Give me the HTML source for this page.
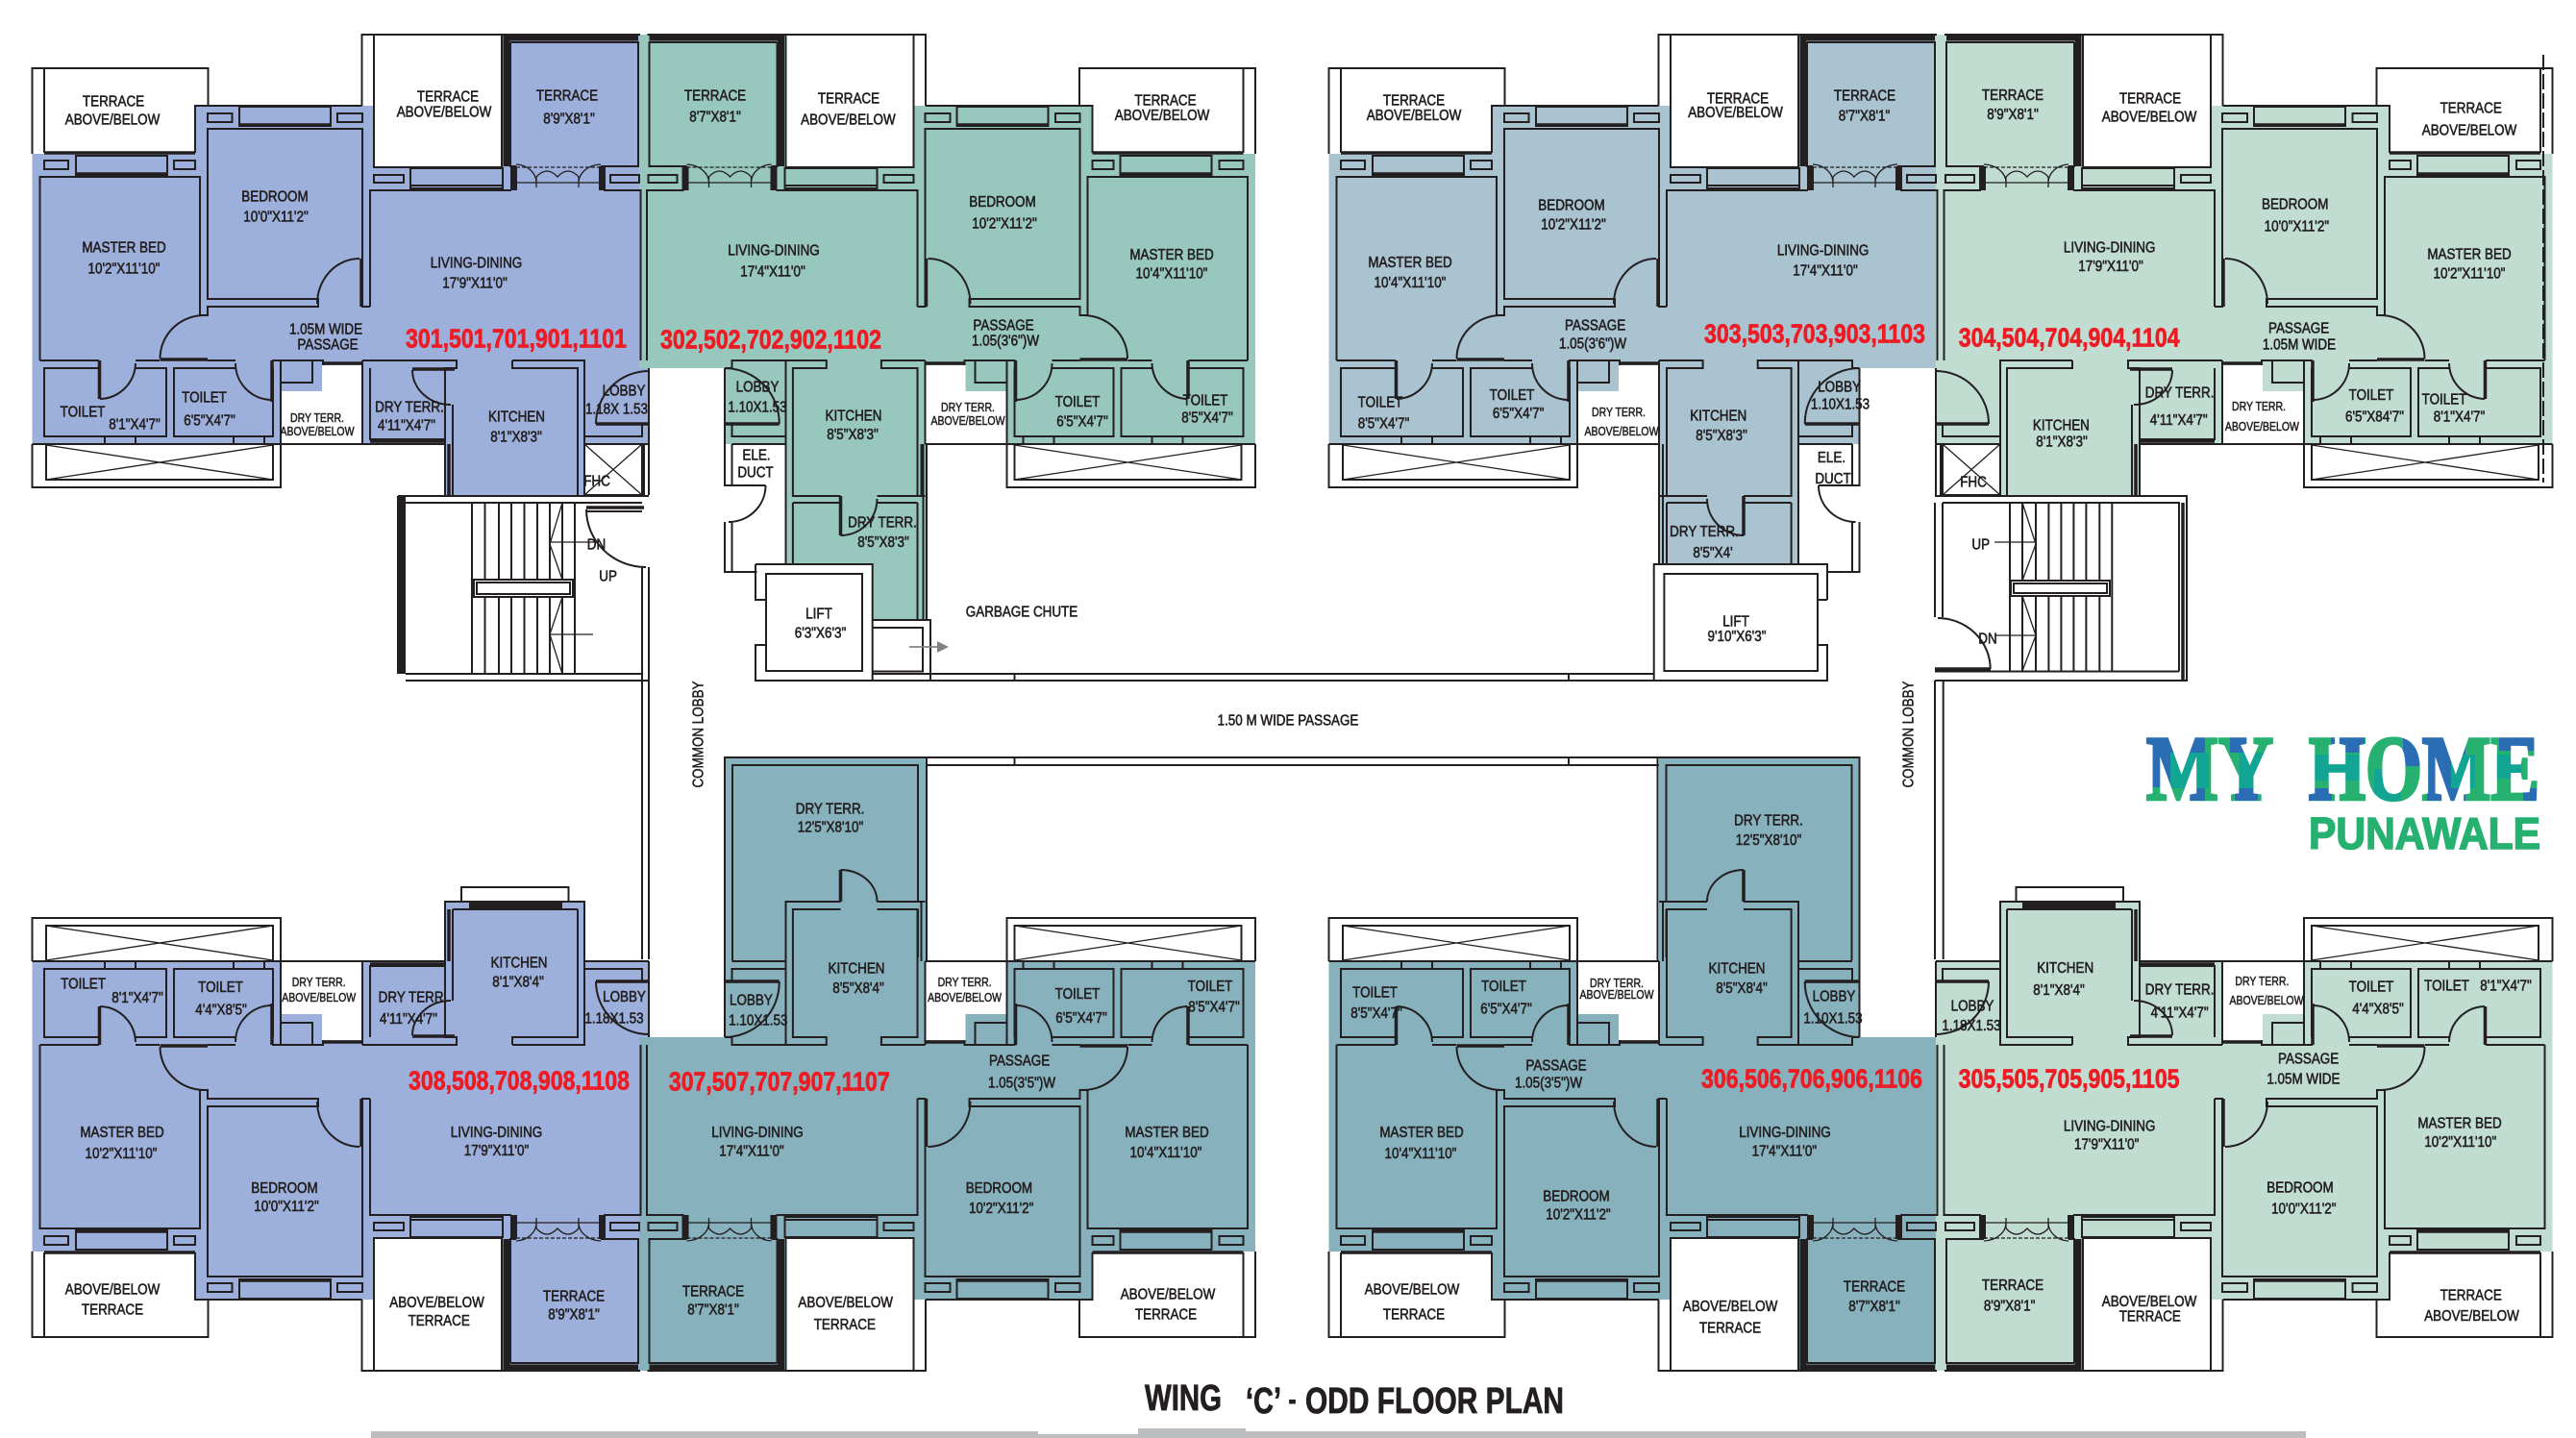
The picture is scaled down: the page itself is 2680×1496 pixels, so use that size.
<!DOCTYPE html>
<html><head><meta charset="utf-8"><style>
html,body{margin:0;padding:0;background:#fff}
svg{display:block}
.w *{fill:none;stroke:#231f20;stroke-width:2}
.w .t{stroke-width:3.5}
.w .k{stroke-width:7}
.w .n{stroke-width:1.3}
text{font-family:"Liberation Sans",sans-serif;text-anchor:middle;dominant-baseline:central;transform-box:fill-box;transform-origin:center;fill:#231f20}
.l,.s{font-size:16px;stroke:#231f20;stroke-width:.6;transform:scaleX(.84)}
.s{font-size:12.5px;stroke-width:.5}
.r{font-size:28px;font-weight:bold;fill:#ed1c24;stroke:#ed1c24;stroke-width:.7;transform:scaleX(.825)}
</style></head><body>
<svg xmlns="http://www.w3.org/2000/svg" width="2680" height="1496" viewBox="0 0 2680 1496">
<defs>
<g id="shell" class="w">
<path d="M33.5,160V71H216.5V110M46,159V71M203,159V110H376.5M376.5,110V36H666M389,36V174H522M522,36V174"/>
<path class="t" d="M46,159H203"/>
<path class="k" d="M527,37V173M524,39H664"/>
<path d="M531,44H664V173H625M531,44V173H537M635,182H665V190H635ZM385,319V198H532M628,198H666.5V375"/>
<path d="M427,175H523V196H427ZM389,182H420V190H389ZM427,193H523"/>
<path class="k" d="M534.5,173V198M626.5,173V198"/>
<path class="n" stroke-dasharray="4 2" d="M537,174H625"/>
<path class="n" d="M537,190H625M537,171A22,19 0 0 1 558,190M558,184Q569,172 580,184Q591,172 602,184M602,190A24,19 0 0 1 625,171M558,184V195M602,184V195"/>
<path d="M41.5,375V184H208V328H216V319H331V311H216V134H377V319H385"/>
<path d="M249,111H344V131H249ZM216,118H241.5V127H216ZM351,118H377V127H351ZM79,162H174V182H79ZM46,167H71V176H46ZM181,167H203V176H181Z"/>
<path class="t" d="M249,130H344M79,181H174"/>
<path d="M41.5,375H103M141,375H166M216,375H245M283,375H336V380M103,383H46V454H173V383H141M245,383H181V454H284V383"/>
<path d="M109,454H141V462H109ZM243,454H275V462H243ZM292,375V398H325V375M292,398V462"/>
<path class="t" d="M103.5,375V415M283,375V418M166.5,374H216M376,269V319"/>
<path d="M104,415A38,38 0 0 0 141,378M283,416A38,38 0 0 1 245,378M166.5,373A46,45 0 0 1 212,328M330,316A44,47 0 0 1 374,269"/>
<path class="t" d="M336,378H377"/>
<path d="M33.5,462V507H292V462M33.5,462H377M48,463V499H284V463"/>
<path class="n" d="M48,463L284,499M48,499L284,463"/>
</g>
<g id="kx" class="w">
<path d="M377,375H475V383H463V516M471,421V516M533,375H608V516M533,375V383H601V516M385,383V457H463M377,375V462H463"/>
<path class="t" d="M385,459H463M429,384H473M467,462V516"/>
<path d="M429,385A40,36 0 0 0 469,421M608,462H675M675,383V462M608,454H668V441"/>
<path class="t" d="M620,441H675"/>
<path d="M620,441A55,55 0 0 1 675,386"/>
</g>
<g id="xtop" class="w"><path d="M463,516H608"/>
<path d="M608,462H668V515H608ZM670,462V515M675,462V515"/>
<path class="n" d="M608,462L668,515M668,462L608,515"/>
</g>
<g id="xbot" class="w">
<path d="M463,516V524H608V516M471,516H601M480,524V539H591.5V524"/>
<path class="k" d="M488,520H585"/>
</g>
<g id="ky" class="w">
<path d="M377,375H422.6V383H385V516H427M465,516H514.6V383H479.7V375H578V383H585.5M522,375V462M522,454H578V441M522,462H578"/>
<path d="M377,375V462M381,462V516"/>
<path class="t" d="M528.8,441H585.5"/>
<path d="M528.8,441A57,57 0 0 1 585.5,383M585.5,383V441"/>
</g>
<g id="dtop" class="w">
<path d="M522,462V587M377,516H427M465,516H514.6M385,523H427M465,523H514.6M514.6,523V587"/>
<path class="t" d="M465,516V557"/>
<path d="M427,519A38,38 0 0 0 465,557M578,462V505H543M585.5,441V505H578M543,505A38.5,38 0 0 0 581.5,543M578,543V595H552M585.5,543V595H552"/>
</g>
<g id="dbot" class="w">
<path d="M585.5,383V674H375.5V462M577.5,463V666H384.5V524M522,462V524H465M427,524H377"/>
<path class="t" d="M465,524V557"/>
<path d="M427,524A38,33 0 0 0 465,557M381,462V524M384.5,466V516"/>
</g>
<pattern id="lg" patternUnits="userSpaceOnUse" x="2220" y="760" width="440" height="80">
<rect x="0" y="0" width="440" height="80" fill="#26b170"/>
<rect x="12" y="7" width="30" height="52" fill="#2a6db5"/>
<rect x="38" y="23" width="40" height="37" fill="#12a594"/>
<rect x="52" y="7" width="22" height="16" fill="#2a6db5"/>
<rect x="52" y="60" width="22" height="13" fill="#2a6db5"/>
<rect x="100" y="7" width="20" height="16" fill="#2a6db5"/>
<rect x="110" y="23" width="30" height="37" fill="#12a594"/>
<rect x="105" y="60" width="24" height="13" fill="#2a6db5"/>
<rect x="181" y="60" width="25" height="13" fill="#2a6db5"/>
<rect x="205" y="7" width="35" height="16" fill="#2a6db5"/>
<rect x="185" y="25" width="55" height="27" fill="#12a594"/>
<rect x="280" y="7" width="25" height="30" fill="#2a6db5"/>
<rect x="250" y="40" width="28" height="33" fill="#12a594"/>
<rect x="305" y="7" width="40" height="66" fill="#2a6db5"/>
<rect x="330" y="25" width="25" height="35" fill="#12a594"/>
<rect x="380" y="7" width="43" height="14" fill="#2a6db5"/>
<rect x="375" y="25" width="28" height="25" fill="#12a594"/>
<rect x="405" y="60" width="18" height="13" fill="#2a6db5"/>
</pattern>
</defs>

<!-- fills -->
<polygon fill="#9db0db" points="33.5,160 203,160 203,110 389,110 389,174 522,174 522,36 665,36 665,383 675,383 675,462 608,462 608,516 463,516 463,462 377,462 377,380 335,380 335,407 292,407 292,462 33.5,462"/>
<polygon fill="#98c7bd" transform="matrix(-1,0,0,1,1339.5,0)" points="33.5,160 203,160 203,110 389,110 389,174 522,174 522,36 674.5,36 674.5,383 585.5,383 585.5,462 521.5,462 521.5,587 431.8,587 431.8,645 375.5,645 375.5,462 377,462 377,380 335,380 335,407 292,407 292,462 33.5,462"/>
<polygon fill="#a9c3d1" transform="translate(1349,0)" points="33.5,160 203,160 203,110 389,110 389,174 522,174 522,36 665,36 665,383 585.5,383 585.5,462 522,462 522,587 377,587 377,380 335,380 335,407 292,407 292,462 33.5,462"/>
<polygon fill="#c1ddd2" transform="matrix(-1,0,0,1,2689,0)" points="33.5,160 203,160 203,110 389,110 389,174 522,174 522,36 675,36 675,462 608,462 608,516 463,516 463,462 377,462 377,380 335,380 335,407 292,407 292,462 33.5,462"/>
<polygon fill="#9db0db" transform="matrix(1,0,0,-1,0,1462)" points="33.5,160 203,160 203,110 389,110 389,174 522,174 522,36 665,36 665,383 675,383 675,462 608,462 608,524 463,524 463,462 377,462 377,380 335,380 335,407 292,407 292,462 33.5,462"/>
<polygon fill="#87b1bc" transform="matrix(-1,0,0,-1,1339.5,1462)" points="33.5,160 203,160 203,110 389,110 389,174 522,174 522,36 674.5,36 674.5,383 585.5,383 585.5,674 375.5,674 375.5,462 377,462 377,380 335,380 335,407 292,407 292,462 33.5,462"/>
<polygon fill="#87b1bc" transform="matrix(1,0,0,-1,1349,1462)" points="33.5,160 203,160 203,110 389,110 389,174 522,174 522,36 665,36 665,383 585.5,383 585.5,674 377,674 377,380 335,380 335,407 292,407 292,462 33.5,462"/>
<polygon fill="#c1ddd2" transform="matrix(-1,0,0,-1,2689,1462)" points="33.5,160 203,160 203,110 389,110 389,174 522,174 522,36 675,36 675,462 608,462 608,524 463,524 463,462 377,462 377,380 335,380 335,407 292,407 292,462 33.5,462"/>

<!-- walls -->
<use href="#shell"/><use href="#kx"/><use href="#xtop"/>
<g transform="matrix(-1,0,0,1,1339.5,0)"><use href="#shell"/><use href="#ky"/><use href="#dtop"/><g class="w"><path d="M385,523V645M375.5,462V645M379,462V645"/></g></g>
<g transform="translate(1349,0)"><use href="#shell"/><use href="#ky"/><use href="#dtop"/><g class="w"><path d="M385,523V587M377,462V587M381,462V587"/></g></g>
<g transform="matrix(-1,0,0,1,2689,0)"><use href="#shell"/><use href="#kx"/><use href="#xtop"/></g>
<g transform="matrix(1,0,0,-1,0,1462)"><use href="#shell"/><use href="#kx"/><use href="#xbot"/></g>
<g transform="matrix(-1,0,0,-1,1339.5,1462)"><use href="#shell"/><use href="#ky"/><use href="#dbot"/></g>
<g transform="matrix(1,0,0,-1,1349,1462)"><use href="#shell"/><use href="#ky"/><use href="#dbot"/></g>
<g transform="matrix(-1,0,0,-1,2689,1462)"><use href="#shell"/><use href="#kx"/><use href="#xbot"/></g>

<!-- core -->
<g class="w">
<path d="M414,516V701M414,516H675M422,523H668M422,701H668M422,708H676"/>
<path class="k" d="M418.5,516V701"/>
<path d="M491,523V701M504.5,523V701M519,523V701M532,523V701M545.5,523V701M559,523V701M572,523V701M585,523V701M598,523V701"/>
<rect x="493" y="603" width="103" height="18" style="fill:#fff"/>
<rect x="496" y="606" width="97" height="12"/>
<path class="n" d="M585,523L572,566L585,603M572,564H620M585,621L572,660L585,701M572,660H617"/>
<path class="t" d="M610,528H670"/>
<path d="M610,532H668M610,530A62,60 0 0 0 672,590M668,590V998M675,590V998"/>

<path d="M2013,516H2275V708H2013M2021,523H2267V698.5M2013,523V642M2021,523V642M2016,643A55,53 0 0 1 2070.7,696M2013,698.5H2267M2013,708V998M2021.7,708V998"/>
<path class="t" d="M2013,696H2071M2271,523V708"/>
<path d="M2091,523V698M2104,523V698M2118,523V698M2131.4,523V698M2144.4,523V698M2157.4,523V698M2170.4,523V698M2184.3,523V698M2197.3,523V698"/>
<rect x="2092" y="604" width="103" height="16" style="fill:#fff"/>
<rect x="2095" y="607" width="97" height="10"/>
<path class="n" d="M2104,523L2118,566L2104,604M2075,564H2118M2104,620L2118,661L2104,698M2075,661H2118"/>

<path d="M786,587H907.7V708H786V671H797M786,587V624H797M797,597H897V698H797Z"/>
<path d="M907.7,645H968V708H907.7M907.7,653H960V698.5H907.7M907.7,701H968M968,701H1721M968,708H1721M1055.5,701V708M1632,701V708"/>
<path d="M1901,624V587H1720.7V708H1901V671H1891M1901,624H1891M1731.4,597H1891V698H1731.4Z"/>
<path d="M964,788H1726M964,796H1726M1055.5,788V796M1632,788V796"/>
<path style="stroke:#808285;stroke-width:1.8" d="M946,673H975"/>
</g>
<polygon points="975,667 987,673 975,679" fill="#808285"/>

<rect x="386" y="1489" width="2013" height="7" fill="#bcbec0"/>
<rect x="1184" y="1486" width="112" height="3" fill="#bcbec0"/>
<rect x="1080" y="1489" width="104" height="3" fill="#fff"/>
<path d="M2646,57V502" stroke="#231f20" stroke-width="2" stroke-dasharray="16 4" fill="none"/>

<!-- 301 -->
<text class="l" x="118" y="106">TERRACE</text><text class="l" x="117" y="125">ABOVE/BELOW</text>
<text class="l" x="466" y="101">TERRACE</text><text class="l" x="462" y="117">ABOVE/BELOW</text>
<text class="l" x="590" y="100">TERRACE</text><text class="l" x="592" y="124">8'9"X8'1"</text>
<text class="l" x="286" y="205">BEDROOM</text><text class="l" x="287" y="226">10'0"X11'2"</text>
<text class="l" x="129" y="258">MASTER BED</text><text class="l" x="129" y="280">10'2"X11'10"</text>
<text class="l" x="495.5" y="274">LIVING-DINING</text><text class="l" x="494" y="295">17'9"X11'0"</text>
<text class="l" x="339" y="343">1.05M WIDE</text><text class="l" x="341" y="359">PASSAGE</text>
<text class="r" x="537" y="353">301,501,701,901,1101</text>
<text class="l" x="86" y="429">TOILET</text><text class="l" x="140" y="442">8'1"X4'7"</text>
<text class="l" x="212.5" y="414">TOILET</text><text class="l" x="218" y="438">6'5"X4'7"</text>
<text class="s" x="330" y="436">DRY TERR.</text><text class="s" x="330" y="450">ABOVE/BELOW</text>
<text class="l" x="426" y="424">DRY TERR.</text><text class="l" x="423" y="443">4'11"X4'7"</text>
<text class="l" x="537.5" y="434">KITCHEN</text><text class="l" x="537" y="455">8'1"X8'3"</text>
<text class="l" x="649" y="407">LOBBY</text><text class="l" x="641.5" y="426">1.18X 1.53</text>
<text class="l" x="621" y="501">FHC</text><text class="l" x="620.5" y="567">DN</text><text class="l" x="632.6" y="600">UP</text>
<!-- 302 -->
<text class="l" x="744" y="100">TERRACE</text><text class="l" x="744" y="122">8'7"X8'1"</text>
<text class="l" x="883" y="103">TERRACE</text><text class="l" x="882.4" y="125">ABOVE/BELOW</text>
<text class="l" x="1212.5" y="105">TERRACE</text><text class="l" x="1209" y="120.6">ABOVE/BELOW</text>
<text class="l" x="1043" y="210.5">BEDROOM</text><text class="l" x="1045" y="233">10'2"X11'2"</text>
<text class="l" x="1219" y="265.5">MASTER BED</text><text class="l" x="1219" y="285">10'4"X11'10"</text>
<text class="l" x="805" y="261">LIVING-DINING</text><text class="l" x="804" y="283">17'4"X11'0"</text>
<text class="r" x="802" y="353.6">302,502,702,902,1102</text>
<text class="l" x="1044" y="339">PASSAGE</text><text class="l" x="1046" y="355">1.05(3'6")W</text>
<text class="l" x="788" y="403">LOBBY</text><text class="l" x="788" y="424">1.10X1.53</text>
<text class="l" x="888" y="433">KITCHEN</text><text class="l" x="887" y="452.6">8'5"X8'3"</text>
<text class="s" x="1007" y="425">DRY TERR.</text><text class="s" x="1007" y="439">ABOVE/BELOW</text>
<text class="l" x="1121" y="418.7">TOILET</text><text class="l" x="1126" y="439">6'5"X4'7"</text>
<text class="l" x="1254" y="417">TOILET</text><text class="l" x="1256" y="435">8'5"X4'7"</text>
<text class="l" x="787" y="474">ELE.</text><text class="l" x="786" y="492">DUCT</text>
<text class="l" x="918" y="544">DRY TERR.</text><text class="l" x="919" y="564.6">8'5"X8'3"</text>
<text class="l" x="852" y="639">LIFT</text><text class="l" x="853.5" y="659">6'3"X6'3"</text>
<text class="l" x="1063" y="637">GARBAGE CHUTE</text>
<!-- 303 -->
<text class="l" x="1471" y="105">TERRACE</text><text class="l" x="1471" y="120.6">ABOVE/BELOW</text>
<text class="l" x="1808" y="103">TERRACE</text><text class="l" x="1805.5" y="117.7">ABOVE/BELOW</text>
<text class="l" x="1940" y="100">TERRACE</text><text class="l" x="1939.5" y="121">8'7"X8'1"</text>
<text class="l" x="1635" y="214">BEDROOM</text><text class="l" x="1637" y="234">10'2"X11'2"</text>
<text class="l" x="1467" y="273.7">MASTER BED</text><text class="l" x="1467" y="294.7">10'4"X11'10"</text>
<text class="l" x="1896.6" y="261">LIVING-DINING</text><text class="l" x="1899" y="282">17'4"X11'0"</text>
<text class="l" x="1659.6" y="339">PASSAGE</text><text class="l" x="1657" y="358">1.05(3'6")W</text>
<text class="r" x="1888" y="348">303,503,703,903,1103</text>
<text class="l" x="1436" y="419">TOILET</text><text class="l" x="1439.5" y="441">8'5"X4'7"</text>
<text class="l" x="1573" y="411.5">TOILET</text><text class="l" x="1579.6" y="430.6">6'5"X4'7"</text>
<text class="s" x="1684" y="430">DRY TERR.</text><text class="s" x="1687" y="450">ABOVE/BELOW</text>
<text class="l" x="1787.7" y="433">KITCHEN</text><text class="l" x="1791" y="453.6">8'5"X8'3"</text>
<text class="l" x="1913.6" y="403">LOBBY</text><text class="l" x="1914.5" y="421">1.10X1.53</text>
<text class="l" x="1905.5" y="476.6">ELE.</text><text class="l" x="1907" y="498.6">DUCT</text>
<text class="l" x="1773" y="553.6">DRY TERR.</text><text class="l" x="1782" y="575.6">8'5"X4'</text>
<text class="l" x="1806" y="647">LIFT</text><text class="l" x="1807" y="662.7">9'10"X6'3"</text>
<!-- 304 -->
<text class="l" x="2094" y="99.5">TERRACE</text><text class="l" x="2094" y="119.6">8'9"X8'1"</text>
<text class="l" x="2237" y="103">TERRACE</text><text class="l" x="2236" y="122">ABOVE/BELOW</text>
<text class="l" x="2570.7" y="113.4">TERRACE</text><text class="l" x="2569" y="136">ABOVE/BELOW</text>
<text class="l" x="2387.7" y="213.4">BEDROOM</text><text class="l" x="2389.4" y="236">10'0"X11'2"</text>
<text class="l" x="2569" y="265">MASTER BED</text><text class="l" x="2569" y="285">10'2"X11'10"</text>
<text class="l" x="2194.7" y="258">LIVING-DINING</text><text class="l" x="2196" y="277.5">17'9"X11'0"</text>
<text class="r" x="2152.6" y="351.7">304,504,704,904,1104</text>
<text class="l" x="2391.6" y="342">PASSAGE</text><text class="l" x="2392" y="359">1.05M WIDE</text>
<text class="l" x="2267.6" y="409">DRY TERR.</text><text class="l" x="2266.7" y="437.8">4'11"X4'7"</text>
<text class="l" x="2144.4" y="443">KITCHEN</text><text class="l" x="2145" y="460">8'1"X8'3"</text>
<text class="s" x="2350" y="424">DRY TERR.</text><text class="s" x="2353.4" y="445">ABOVE/BELOW</text>
<text class="l" x="2467" y="411.5">TOILET</text><text class="l" x="2470.5" y="434">6'5"X84'7"</text>
<text class="l" x="2543" y="416">TOILET</text><text class="l" x="2558.5" y="434.4">8'1"X4'7"</text>
<text class="l" x="2053" y="502">FHC</text><text class="l" x="2060.7" y="567">UP</text><text class="l" x="2068" y="665">DN</text>
<!-- 308 -->
<text class="l" x="86.6" y="1024">TOILET</text><text class="l" x="143" y="1038.6">8'1"X4'7"</text>
<text class="l" x="229.5" y="1027.6">TOILET</text><text class="l" x="230" y="1051">4'4"X8'5"</text>
<text class="s" x="331.7" y="1023">DRY TERR.</text><text class="s" x="331.7" y="1038.6">ABOVE/BELOW</text>
<text class="l" x="429.5" y="1038">DRY TERR.</text><text class="l" x="425" y="1060.5">4'11"X4'7"</text>
<text class="l" x="540" y="1002">KITCHEN</text><text class="l" x="539" y="1022">8'1"X8'4"</text>
<text class="l" x="649.5" y="1037.6">LOBBY</text><text class="l" x="639" y="1060">1.18X1.53</text>
<text class="r" x="540" y="1124.8">308,508,708,908,1108</text>
<text class="l" x="127" y="1178.6">MASTER BED</text><text class="l" x="126" y="1200.5">10'2"X11'10"</text>
<text class="l" x="516.5" y="1178.6">LIVING-DINING</text><text class="l" x="516.5" y="1197.6">17'9"X11'0"</text>
<text class="l" x="296" y="1236.7">BEDROOM</text><text class="l" x="298" y="1255.7">10'0"X11'2"</text>
<text class="l" x="117" y="1342">ABOVE/BELOW</text><text class="l" x="117" y="1363">TERRACE</text>
<text class="l" x="454.5" y="1355.7">ABOVE/BELOW</text><text class="l" x="456.7" y="1374.8">TERRACE</text>
<text class="l" x="597" y="1349">TERRACE</text><text class="l" x="597" y="1368">8'9"X8'1"</text>
<!-- 307 -->
<text class="l" x="863.6" y="842">DRY TERR.</text><text class="l" x="864" y="861.4">12'5"X8'10"</text>
<text class="l" x="891" y="1008">KITCHEN</text><text class="l" x="893" y="1028.6">8'5"X8'4"</text>
<text class="l" x="781.4" y="1041.4">LOBBY</text><text class="l" x="788.8" y="1062">1.10X1.53</text>
<text class="s" x="1003.6" y="1023">DRY TERR.</text><text class="s" x="1003.6" y="1038.6">ABOVE/BELOW</text>
<text class="l" x="1121" y="1034.8">TOILET</text><text class="l" x="1125" y="1059.5">6'5"X4'7"</text>
<text class="l" x="1259" y="1026.7">TOILET</text><text class="l" x="1263" y="1048">8'5"X4'7"</text>
<text class="l" x="1060.6" y="1104">PASSAGE</text><text class="l" x="1063" y="1127">1.05(3'5")W</text>
<text class="r" x="810.8" y="1126">307,507,707,907,1107</text>
<text class="l" x="788" y="1178.6">LIVING-DINING</text><text class="l" x="782" y="1198">17'4"X11'0"</text>
<text class="l" x="1214" y="1178.6">MASTER BED</text><text class="l" x="1213" y="1199.5">10'4"X11'10"</text>
<text class="l" x="1039.4" y="1236.7">BEDROOM</text><text class="l" x="1041.7" y="1257.6">10'2"X11'2"</text>
<text class="l" x="742" y="1344">TERRACE</text><text class="l" x="742" y="1363">8'7"X8'1"</text>
<text class="l" x="879.7" y="1355.7">ABOVE/BELOW</text><text class="l" x="878.8" y="1378.6">TERRACE</text>
<text class="l" x="1215" y="1347">ABOVE/BELOW</text><text class="l" x="1213" y="1368">TERRACE</text>
<!-- 306 -->
<text class="l" x="1840" y="854">DRY TERR.</text><text class="l" x="1840" y="874.8">12'5"X8'10"</text>
<text class="l" x="1807" y="1008">KITCHEN</text><text class="l" x="1812" y="1028.6">8'5"X8'4"</text>
<text class="l" x="1908" y="1037">LOBBY</text><text class="l" x="1907" y="1060">1.10X1.53</text>
<text class="s" x="1682" y="1023.8">DRY TERR.</text><text class="s" x="1682" y="1036">ABOVE/BELOW</text>
<text class="l" x="1430.5" y="1033">TOILET</text><text class="l" x="1432" y="1054.8">8'5"X4'7"</text>
<text class="l" x="1564.5" y="1026.7">TOILET</text><text class="l" x="1567" y="1050">6'5"X4'7"</text>
<text class="l" x="1619" y="1109">PASSAGE</text><text class="l" x="1611" y="1127">1.05(3'5")W</text>
<text class="r" x="1885" y="1123">306,506,706,906,1106</text>
<text class="l" x="1857" y="1178.6">LIVING-DINING</text><text class="l" x="1856.4" y="1198">17'4"X11'0"</text>
<text class="l" x="1479" y="1178.6">MASTER BED</text><text class="l" x="1478" y="1200.5">10'4"X11'10"</text>
<text class="l" x="1640" y="1245">BEDROOM</text><text class="l" x="1642" y="1264">10'2"X11'2"</text>
<text class="l" x="1950" y="1339">TERRACE</text><text class="l" x="1950" y="1359.5">8'7"X8'1"</text>
<text class="l" x="1800" y="1359.5">ABOVE/BELOW</text><text class="l" x="1800" y="1382">TERRACE</text>
<text class="l" x="1469" y="1342">ABOVE/BELOW</text><text class="l" x="1471" y="1368">TERRACE</text>
<!-- 305 -->
<text class="l" x="2148.7" y="1007.6">KITCHEN</text><text class="l" x="2142" y="1030.5">8'1"X8'4"</text>
<text class="l" x="2052" y="1047">LOBBY</text><text class="l" x="2051" y="1067.5">1.18X1.53</text>
<text class="l" x="2267.6" y="1030">DRY TERR.</text><text class="l" x="2267.6" y="1054.3">4'11"X4'7"</text>
<text class="s" x="2353.4" y="1022">DRY TERR.</text><text class="s" x="2358" y="1042">ABOVE/BELOW</text>
<text class="l" x="2467" y="1027.4">TOILET</text><text class="l" x="2474" y="1050">4'4"X8'5"</text>
<text class="l" x="2545.5" y="1026.4">TOILET</text><text class="l" x="2607" y="1026">8'1"X4'7"</text>
<text class="r" x="2152.6" y="1122.8">305,505,705,905,1105</text>
<text class="l" x="2401.6" y="1102">PASSAGE</text><text class="l" x="2396.4" y="1123.4">1.05M WIDE</text>
<text class="l" x="2194.7" y="1172">LIVING-DINING</text><text class="l" x="2191.7" y="1191">17'9"X11'0"</text>
<text class="l" x="2559" y="1169">MASTER BED</text><text class="l" x="2559.8" y="1188.8">10'2"X11'10"</text>
<text class="l" x="2393" y="1236">BEDROOM</text><text class="l" x="2396.8" y="1258">10'0"X11'2"</text>
<text class="l" x="2094" y="1337.6">TERRACE</text><text class="l" x="2090.6" y="1359.4">8'9"X8'1"</text>
<text class="l" x="2236" y="1354.8">ABOVE/BELOW</text><text class="l" x="2236.8" y="1370">TERRACE</text>
<text class="l" x="2570.7" y="1348">TERRACE</text><text class="l" x="2571.5" y="1369.5">ABOVE/BELOW</text>
<!-- common -->
<text class="l" x="1340" y="750">1.50 M WIDE PASSAGE</text>
<text style="font-size:16px;stroke:#231f20;stroke-width:.5;text-anchor:middle;transform-box:view-box;transform-origin:0 0" transform="rotate(-90 727 764)" x="727" y="764" textLength="111" lengthAdjust="spacingAndGlyphs">COMMON LOBBY</text>
<text style="font-size:16px;stroke:#231f20;stroke-width:.5;text-anchor:middle;transform-box:view-box;transform-origin:0 0" transform="rotate(-90 1986 764)" x="1986" y="764" textLength="111" lengthAdjust="spacingAndGlyphs">COMMON LOBBY</text>
<!-- title -->
<g>
<text x="1191" y="1467" textLength="80" lengthAdjust="spacingAndGlyphs" style="text-anchor:start;dominant-baseline:alphabetic;font-weight:bold;font-size:38px;stroke:#231f20;stroke-width:.8">WING</text>
<text x="1296" y="1470" textLength="37" lengthAdjust="spacingAndGlyphs" style="text-anchor:start;dominant-baseline:alphabetic;font-weight:bold;font-size:38px;stroke:#231f20;stroke-width:.8">‘C’</text>
<text x="1340" y="1468" textLength="9" lengthAdjust="spacingAndGlyphs" style="text-anchor:start;dominant-baseline:alphabetic;font-weight:bold;font-size:38px">-</text>
<text x="1358" y="1470" textLength="269" lengthAdjust="spacingAndGlyphs" style="text-anchor:start;dominant-baseline:alphabetic;font-weight:bold;font-size:38px;stroke:#231f20;stroke-width:.8">ODD FLOOR PLAN</text>
</g>
<!-- logo -->
<text x="2233" y="831.5" textLength="132" lengthAdjust="spacingAndGlyphs" style="font-family:'Liberation Serif',serif;font-weight:bold;font-size:95px;text-anchor:start;dominant-baseline:alphabetic;fill:url(#lg);stroke:url(#lg);stroke-width:3.5">MY</text>
<text x="2402" y="831.5" textLength="240" lengthAdjust="spacingAndGlyphs" style="font-family:'Liberation Serif',serif;font-weight:bold;font-size:95px;text-anchor:start;dominant-baseline:alphabetic;fill:url(#lg);stroke:url(#lg);stroke-width:3.5">HOME</text>
<text x="2402" y="883" textLength="241" lengthAdjust="spacingAndGlyphs" style="font-weight:bold;font-size:46px;text-anchor:start;dominant-baseline:alphabetic;fill:#26b170;stroke:#26b170;stroke-width:1.5">PUNAWALE</text>
</svg>
</body></html>
